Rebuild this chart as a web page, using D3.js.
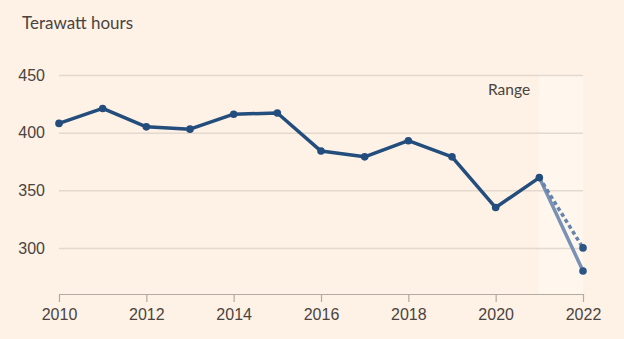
<!DOCTYPE html>
<html>
<head>
<meta charset="utf-8">
<script src="https://cdn.jsdelivr.net/npm/d3@7"></script>
<style>
  body { margin: 0; background: #fef1e6; }
  svg { display: block; font-family: Lato, "Open Sans", sans-serif; }
  .tick text { fill: #4a4440; font-size: 16px; }
</style>
</head>
<body>
<div id="chart"></div>
<script>
// yearly generation, terawatt hours
const years = [2010, 2011, 2012, 2013, 2014, 2015, 2016, 2017, 2018, 2019, 2020, 2021];
const values = [408, 421, 405, 403, 416, 417, 384, 379, 393, 379, 335, 361];

// 2022 range: high and low estimate
const rangeYears = [2021, 2022];
const rangeHigh = [361, 300];
const rangeLow = [361, 280];

const yTicks = [300, 350, 400, 450];
const xTicks = [2010, 2012, 2014, 2016, 2018, 2020, 2022];

const width = 624, height = 339;
const margin = { top: 75, right: 41, bottom: 45, left: 59 };
const plotW = width - margin.left - margin.right;
const plotH = height - margin.top - margin.bottom;

const svg = d3.select("#chart").append("svg")
    .attr("width", width)
    .attr("height", height);

svg.append("rect").attr("width", width).attr("height", height).attr("fill", "#fef1e6");

const x = d3.scaleLinear().domain([2010, 2022]).range([0, plotW]);
const y = d3.scaleLinear().domain([260, 450]).range([plotH, 0]);

const plot = svg.append("g").attr("transform", "translate(" + margin.left + "," + margin.top + ")");

// shaded range band
plot.append("rect")
    .attr("x", x(2021))
    .attr("y", y(450))
    .attr("width", x(2022) - x(2021))
    .attr("height", y(260) - y(450))
    .attr("fill", "#fff6ee");

// gridlines + y labels
const yAxis = plot.append("g")
    .call(d3.axisLeft(y).tickValues(yTicks).tickSize(-plotW).tickPadding(14));
yAxis.select(".domain").remove();
yAxis.selectAll(".tick line").attr("stroke", "#e3d9ce").attr("stroke-width", 1.5);

// x axis
const xAxis = plot.append("g")
    .attr("transform", "translate(0," + plotH + ")")
    .call(d3.axisBottom(x).tickValues(xTicks).tickFormat(d3.format("d")).tickSize(8).tickSizeOuter(0).tickPadding(7));
xAxis.select(".domain").attr("stroke", "#b3aaa1").attr("stroke-width", 1.2);
xAxis.selectAll(".tick line").attr("stroke", "#b3aaa1").attr("stroke-width", 1.2);

plot.append("text")
    .attr("x", 488 - margin.left)
    .attr("y", 95 - margin.top)
    .attr("fill", "#4a4440")
    .attr("font-size", "15.5px")
    .text("Range");

svg.append("text")
    .attr("x", 22)
    .attr("y", 29)
    .attr("fill", "#4a4440")
    .attr("font-size", "17px")
    .text("Terawatt hours");

const line = d3.line().x(d => x(d[0])).y(d => y(d[1]));

const lowPts = rangeYears.map((yr, i) => [yr, rangeLow[i]]);
const highPts = rangeYears.map((yr, i) => [yr, rangeHigh[i]]);

plot.append("path")
    .attr("d", line(lowPts))
    .attr("fill", "none")
    .attr("stroke", "#7891b4")
    .attr("stroke-width", 3.5);

plot.append("path")
    .attr("d", line(highPts))
    .attr("fill", "none")
    .attr("stroke", "#6683ab")
    .attr("stroke-width", 3.5)
    .attr("stroke-dasharray", "4,3");

const mainPts = years.map((yr, i) => [yr, values[i]]);
plot.append("path")
    .attr("d", line(mainPts))
    .attr("fill", "none")
    .attr("stroke", "#234d7c")
    .attr("stroke-width", 3.5)
    .attr("stroke-linejoin", "round");

plot.selectAll("circle.main")
    .data(mainPts)
    .enter().append("circle")
    .attr("class", "main")
    .attr("cx", d => x(d[0]))
    .attr("cy", d => y(d[1]))
    .attr("r", 3.8)
    .attr("fill", "#234d7c");

plot.selectAll("circle.range")
    .data([highPts[1], lowPts[1]])
    .enter().append("circle")
    .attr("class", "range")
    .attr("cx", d => x(d[0]))
    .attr("cy", d => y(d[1]))
    .attr("r", 3.8)
    .attr("fill", "#2b5584");
</script>
</body>
</html>
